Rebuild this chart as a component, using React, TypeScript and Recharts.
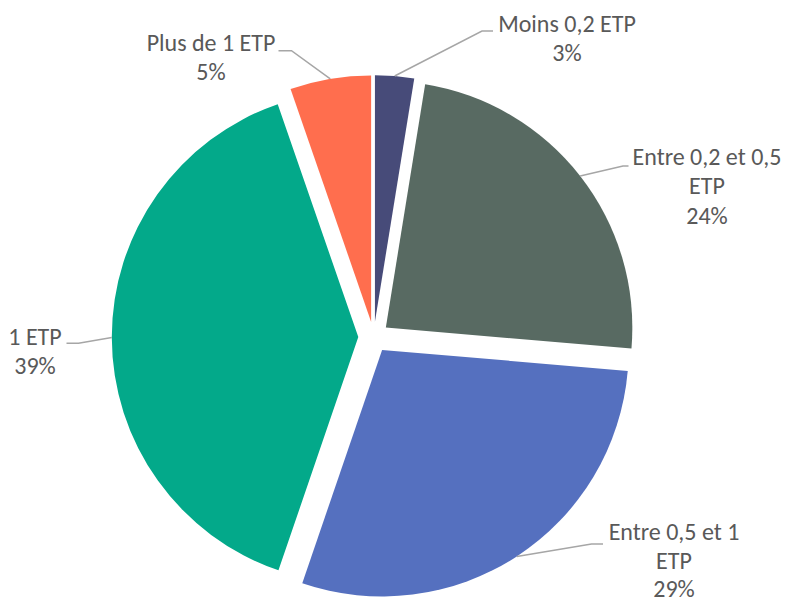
import React from 'react';
import { PieChart, Pie, Sector } from 'recharts';

// ---- data ----
const categories = ['Moins 0,2 ETP', 'Entre 0,2 et 0,5 ETP', 'Entre 0,5 et 1 ETP', '1 ETP', 'Plus de 1 ETP'];
const shares = [2.55, 23.8, 28.9, 39.45, 5.3];
const labelNameLines = [['Moins 0,2 ETP'], ['Entre 0,2 et 0,5', 'ETP'], ['Entre 0,5 et 1', 'ETP'], ['1 ETP'], ['Plus de 1 ETP']];

// ---- styles / layout ----
const COLORS = ['#474b79', '#586a62', '#5570bf', '#03a98a', '#ff6e4e'];
const TEXT_COLOR = '#595959';
const LINE_COLOR = '#a6a6a6';
const FONT = 'Carlito, Calibri, Lato, sans-serif';
const FONT_SIZE = 24;
const LINE_HEIGHT = 29.3;
const EXPLODE = 15.4;
const RADIAN = Math.PI / 180;

const LABEL_LAYOUT = [
  { x: 567, y: 31.5, elbow: [482, 31], end: [493, 31] },
  { x: 707, y: 165, elbow: [623, 166], end: [628.5, 166] },
  { x: 674, y: 540, elbow: [591.5, 544], end: [603, 544] },
  { x: 35, y: 345, elbow: [78.5, 343.3], end: [66.5, 343.3] },
  { x: 211, y: 50.7, elbow: [291.5, 50.7], end: [278.5, 50.7] },
];

const data = categories.map((name, i) => ({ name, value: shares[i] }));

const renderSlice = (props: any) => {
  const { cx, cy, outerRadius, startAngle, endAngle, index, percent } = props;
  const mid = (startAngle + endAngle) / 2;
  const dx = EXPLODE * Math.cos(-mid * RADIAN);
  const dy = EXPLODE * Math.sin(-mid * RADIAN);
  const ox = cx + dx;
  const oy = cy + dy;
  const ax = ox + outerRadius * Math.cos(-mid * RADIAN);
  const ay = oy + outerRadius * Math.sin(-mid * RADIAN);
  const lay = LABEL_LAYOUT[index];
  const lines = [...labelNameLines[index], `${Math.round(percent * 100)}%`];
  const lh = index === 2 ? 28.6 : LINE_HEIGHT;
  return (
    <g key={`slice-${index}`}>
      <Sector
        cx={ox}
        cy={oy}
        innerRadius={0}
        outerRadius={outerRadius}
        startAngle={startAngle}
        endAngle={endAngle}
        fill={COLORS[index]}
        stroke="none"
      />
      <polyline
        points={`${ax},${ay} ${lay.elbow[0]},${lay.elbow[1]} ${lay.end[0]},${lay.end[1]}`}
        fill="none"
        stroke={LINE_COLOR}
        strokeWidth={1.5}
      />
      <text
        x={lay.x}
        y={lay.y}
        textAnchor="middle"
        fill={TEXT_COLOR}
        fontFamily={FONT}
        fontSize={FONT_SIZE}
      >
        {lines.map((t, k) => (
          <tspan key={k} x={lay.x} y={lay.y + k * lh}>
            {t}
          </tspan>
        ))}
      </text>
    </g>
  );
};

export default function App() {
  return (
    <div style={{ position: 'absolute', left: 0, top: 0, width: 785, height: 603, background: '#ffffff' }}>
      <PieChart width={785} height={603} margin={{ top: 0, right: 0, bottom: 0, left: 0 }}>
        <Pie
          data={data}
          dataKey="value"
          nameKey="name"
          cx={373.7}
          cy={337.1}
          innerRadius={0}
          outerRadius={246.5}
          startAngle={90}
          endAngle={-270}
          fill="none"
          stroke="none"
          labelLine={false}
          label={renderSlice}
          isAnimationActive={false}
        />
      </PieChart>
    </div>
  );
}
